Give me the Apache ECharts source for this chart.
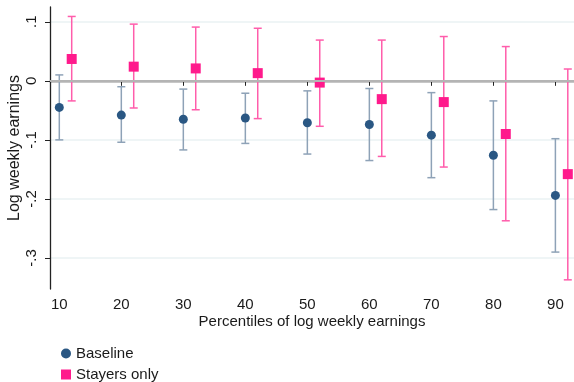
<!DOCTYPE html>
<html>
<head>
<meta charset="utf-8">
<script src="https://cdn.jsdelivr.net/npm/echarts@6/dist/echarts.min.js"></script>
<style>html,body{margin:0;padding:0;background:#fff}#c{width:574px;height:382px}</style>
</head>
<body>
<div id="c"></div>
<script>
// ---- data ----
const percentiles = [10, 20, 30, 40, 50, 60, 70, 80, 90];
const baselineEst = [-0.045, -0.058, -0.065, -0.063, -0.071, -0.074, -0.092, -0.126, -0.194];
const baselineHi  = [0.010, -0.010, -0.014, -0.021, -0.017, -0.013, -0.020, -0.034, -0.098];
const baselineLo  = [-0.100, -0.104, -0.117, -0.106, -0.124, -0.135, -0.164, -0.218, -0.290];
const stayersEst  = [0.037, 0.024, 0.021, 0.013, -0.003, -0.031, -0.036, -0.090, -0.158];
const stayersHi   = [0.109, 0.096, 0.091, 0.089, 0.069, 0.069, 0.075, 0.058, 0.020];
const stayersLo   = [-0.034, -0.046, -0.049, -0.064, -0.077, -0.128, -0.146, -0.237, -0.337];
const stayersShift = 2; // stayers plotted 2 percentile points to the right
const xTicks = [10, 20, 30, 40, 50, 60, 70, 80, 90];
const yTicks = [-0.3, -0.2, -0.1, 0, 0.1];
const yTickLabels = ['-.3', '-.2', '-.1', '0', '.1'];

const navy = '#2a5783', navyBar = '#8ea2b7';
const pink = '#ff1a8c', pinkBar = '#ff5dab';
const FONT = 'Liberation Sans, Arial, sans-serif';

function errData(xs, lo, hi, shift) {
  return xs.map((x, i) => [x + shift, lo[i], hi[i]]);
}
function errRender(color) {
  return function (params, api) {
    const x = api.value(0);
    const p1 = api.coord([x, api.value(1)]);
    const p2 = api.coord([x, api.value(2)]);
    const w = 4;
    const st = { stroke: color, lineWidth: 1.5 };
    return {
      type: 'group',
      children: [
        { type: 'line', shape: { x1: p1[0], y1: p1[1], x2: p2[0], y2: p2[1] }, style: st },
        { type: 'line', shape: { x1: p1[0] - w, y1: p1[1], x2: p1[0] + w, y2: p1[1] }, style: st },
        { type: 'line', shape: { x1: p2[0] - w, y1: p2[1], x2: p2[0] + w, y2: p2[1] }, style: st }
      ]
    };
  };
}
const legendText = { fontSize: 15, color: '#1a1a1a', fontFamily: FONT };

const chart = echarts.init(document.getElementById('c'), null, { renderer: 'canvas' });
chart.setOption({
  animation: false,
  backgroundColor: '#fff',
  textStyle: { fontFamily: FONT },
  grid: { left: 50, right: 0, top: 7, bottom: 93, containLabel: false, outerBoundsMode: 'none' },
  legend: [
    {
      left: 61, top: 346, padding: 0, itemWidth: 10, itemHeight: 10,
      textStyle: legendText, data: [{ name: 'Baseline', icon: 'circle' }]
    },
    {
      left: 61, top: 367, padding: 0, itemWidth: 10, itemHeight: 10,
      textStyle: legendText, data: [{ name: 'Stayers only', icon: 'rect' }]
    }
  ],
  xAxis: {
    type: 'value', min: 8.5, max: 93,
    name: 'Percentiles of log weekly earnings', nameLocation: 'middle', nameGap: 25,
    nameMoveOverlap: false,
    nameTextStyle: { fontSize: 15, color: '#1a1a1a', fontFamily: FONT },
    axisLine: { lineStyle: { color: '#222', width: 1.3 } },
    axisTick: { customValues: xTicks, length: 5, lineStyle: { color: '#222' } },
    axisLabel: { customValues: xTicks, fontSize: 15, color: '#1a1a1a', margin: 8, fontFamily: FONT },
    splitLine: { show: false }
  },
  yAxis: {
    type: 'value', min: -0.3525, max: 0.125,
    name: 'Log weekly earnings', nameLocation: 'middle', nameGap: 27,
    nameMoveOverlap: false,
    nameTextStyle: { fontSize: 16, color: '#1a1a1a', fontFamily: FONT },
    axisLine: { show: true, lineStyle: { color: '#222', width: 1.3 } },
    axisTick: { show: true, customValues: yTicks, length: 5, lineStyle: { color: '#222' } },
    axisLabel: {
      customValues: yTicks, rotate: 90, fontSize: 15, color: '#1a1a1a', margin: 11, fontFamily: FONT,
      formatter: v => { const i = yTicks.findIndex(t => Math.abs(t - v) < 1e-9); return i >= 0 ? yTickLabels[i] : ''; }
    },
    splitLine: { show: true, lineStyle: { color: '#eaf2f3', width: 1.5 } }
  },
  series: [
    {
      type: 'custom', name: 'BaselineCI', renderItem: errRender(navyBar),
      data: errData(percentiles, baselineLo, baselineHi, 0),
      encode: { x: 0, y: [1, 2] }, z: 2,
      markLine: {
        silent: true, symbol: 'none', label: { show: false },
        lineStyle: { color: '#b4b4b4', width: 2, type: 'solid' },
        data: [{ yAxis: 0 }]
      }
    },
    {
      type: 'custom', name: 'StayersCI', renderItem: errRender(pinkBar),
      data: errData(percentiles, stayersLo, stayersHi, stayersShift),
      encode: { x: 0, y: [1, 2] }, z: 2
    },
    {
      type: 'scatter', name: 'Baseline', symbol: 'circle', symbolSize: 9,
      itemStyle: { color: navy, opacity: 1 }, z: 3,
      data: percentiles.map((x, i) => [x, baselineEst[i]])
    },
    {
      type: 'scatter', name: 'Stayers only', symbol: 'rect', symbolSize: 10,
      itemStyle: { color: pink, opacity: 1 }, z: 3,
      data: percentiles.map((x, i) => [x + stayersShift, stayersEst[i]])
    }
  ]
});
</script>
</body>
</html>
